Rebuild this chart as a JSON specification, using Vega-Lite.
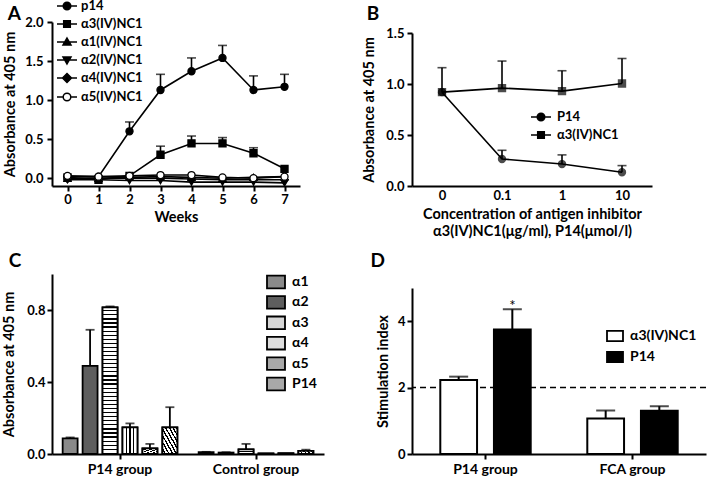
{
"$schema":"https://vega.github.io/schema/vega-lite/v6.json",
"background":"white",
"padding":{"left":1,"top":-5,"right":0,"bottom":0},
"config":{
 "font":"Lato",
 "view":{"stroke":null},
 "axis":{"labelFont":"Lato","labelFontSize":13,"labelFontWeight":"bold","labelColor":"black","titleFont":"Lato","titleFontSize":14.5,"titleFontWeight":"bold","titleColor":"black","domainColor":"black","domainWidth":2,"tickColor":"black","tickWidth":2,"tickSize":5,"grid":false},
 "legend":{"labelFont":"Lato","labelFontWeight":"bold","labelColor":"black","labelFontSize":13},
 "title":{"font":"Lato","fontSize":19,"fontWeight":"bold","color":"black"}
},
"resolve":{"scale":{"fill":"independent","shape":"independent","xOffset":"independent"},"legend":{"fill":"independent","shape":"independent"}},
"columns":2,
"spacing":88,
"bounds":"flush",
"concat":[
{
 "width":248,"height":164,
 "title":{"text":"A","anchor":"start","frame":"bounds","offset":0,"dx":5,"dy":29},
 "data":{"values":[
  {"week":0,"series":"p14","value":0.02},{"week":1,"series":"p14","value":0.02},{"week":2,"series":"p14","value":0.6,"upper":0.72},{"week":3,"series":"p14","value":1.13,"upper":1.33},{"week":4,"series":"p14","value":1.37,"upper":1.54},{"week":5,"series":"p14","value":1.54,"upper":1.7},{"week":6,"series":"p14","value":1.13,"upper":1.31},{"week":7,"series":"p14","value":1.17,"upper":1.33},
  {"week":0,"series":"α3(IV)NC1","value":0.01},{"week":1,"series":"α3(IV)NC1","value":-0.02},{"week":2,"series":"α3(IV)NC1","value":0.03},{"week":3,"series":"α3(IV)NC1","value":0.3,"upper":0.41},{"week":4,"series":"α3(IV)NC1","value":0.445,"upper":0.54},{"week":5,"series":"α3(IV)NC1","value":0.445,"upper":0.52},{"week":6,"series":"α3(IV)NC1","value":0.32,"upper":0.39},{"week":7,"series":"α3(IV)NC1","value":0.12},
  {"week":0,"series":"α1(IV)NC1","value":0.0},{"week":1,"series":"α1(IV)NC1","value":0.0},{"week":2,"series":"α1(IV)NC1","value":0.01},{"week":3,"series":"α1(IV)NC1","value":0.02},{"week":4,"series":"α1(IV)NC1","value":0.01},{"week":5,"series":"α1(IV)NC1","value":0.0},{"week":6,"series":"α1(IV)NC1","value":0.01},{"week":7,"series":"α1(IV)NC1","value":0.02},
  {"week":0,"series":"α2(IV)NC1","value":-0.02},{"week":1,"series":"α2(IV)NC1","value":-0.02},{"week":2,"series":"α2(IV)NC1","value":-0.03},{"week":3,"series":"α2(IV)NC1","value":-0.03},{"week":4,"series":"α2(IV)NC1","value":-0.05},{"week":5,"series":"α2(IV)NC1","value":-0.05},{"week":6,"series":"α2(IV)NC1","value":-0.05},{"week":7,"series":"α2(IV)NC1","value":-0.06},
  {"week":0,"series":"α4(IV)NC1","value":-0.01},{"week":1,"series":"α4(IV)NC1","value":0.0},{"week":2,"series":"α4(IV)NC1","value":0.0},{"week":3,"series":"α4(IV)NC1","value":0.0},{"week":4,"series":"α4(IV)NC1","value":-0.01},{"week":5,"series":"α4(IV)NC1","value":-0.02},{"week":6,"series":"α4(IV)NC1","value":-0.02},{"week":7,"series":"α4(IV)NC1","value":-0.02},
  {"week":0,"series":"α5(IV)NC1","value":0.03},{"week":1,"series":"α5(IV)NC1","value":0.02},{"week":2,"series":"α5(IV)NC1","value":0.03},{"week":3,"series":"α5(IV)NC1","value":0.04},{"week":4,"series":"α5(IV)NC1","value":0.04},{"week":5,"series":"α5(IV)NC1","value":0.01},{"week":6,"series":"α5(IV)NC1","value":0.0},{"week":7,"series":"α5(IV)NC1","value":0.02}
 ]},
 "encoding":{"x":{"field":"week","type":"quantitative","scale":{"domain":[-0.5,7.5],"nice":false},"axis":{"values":[0,1,2,3,4,5,6,7],"title":"Weeks","labelPadding":2,"titlePadding":4}}},
 "layer":[
  {"mark":{"type":"line","color":"black","strokeWidth":1.6},"encoding":{"y":{"field":"value","type":"quantitative","scale":{"domain":[-0.1,2],"nice":false,"zero":false},"axis":{"values":[0,0.5,1,1.5,2],"format":".1f","title":"Absorbance at 405 nm","labelPadding":4,"titlePadding":7}},"detail":{"field":"series"}}},
  {"transform":[{"filter":"datum.upper != null"}],"mark":{"type":"rule","color":"black","strokeWidth":1.6},"encoding":{"y":{"field":"value","type":"quantitative"},"y2":{"field":"upper"}}},
  {"transform":[{"filter":"datum.upper != null"}],"mark":{"type":"tick","color":"black","orient":"horizontal","size":9,"thickness":1.6},"encoding":{"y":{"field":"upper","type":"quantitative"}}},
  {"mark":{"type":"point","filled":true,"stroke":"black","strokeWidth":1.3,"opacity":1,"size":50},"encoding":{"y":{"field":"value","type":"quantitative"},
    "shape":{"field":"series","type":"nominal","scale":{"domain":["p14","α3(IV)NC1","α1(IV)NC1","α2(IV)NC1","α4(IV)NC1","α5(IV)NC1"],"range":["circle","square","triangle-up","triangle-down","diamond","circle"]},"legend":null},
    "fill":{"field":"series","type":"nominal","scale":{"domain":["p14","α3(IV)NC1","α1(IV)NC1","α2(IV)NC1","α4(IV)NC1","α5(IV)NC1"],"range":["black","black","black","black","black","white"]},"legend":null}}},
  {"mark":{"type":"point","filled":false,"color":"black","strokeWidth":1.5,"opacity":0},"encoding":{"y":{"field":"value","type":"quantitative"},
    "shape":{"field":"series","type":"nominal","scale":{"domain":["p14","α3(IV)NC1","α1(IV)NC1","α2(IV)NC1","α4(IV)NC1","α5(IV)NC1"],"range":[
      "M-1,0H-0.38M0.38,0H1M-0.38,0A0.38,0.38,0,1,1,0.38,0A0.38,0.38,0,1,1,-0.38,0Z",
      "M-1,0H-0.33M0.33,0H1M-0.33,-0.33H0.33V0.33H-0.33Z",
      "M-1,0H1M0,-0.4L0.4,0.3L-0.4,0.3Z",
      "M-1,0H1M0,0.4L0.4,-0.3L-0.4,-0.3Z",
      "M-1,0H1M0,-0.45L0.45,0L0,0.45L-0.45,0Z",
      "M-1,0H-0.38M0.38,0H1M-0.38,0A0.38,0.38,0,1,1,0.38,0A0.38,0.38,0,1,1,-0.38,0Z"]},
      "legend":{"title":null,"orient":"none","legendX":4,"legendY":-27,"symbolSize":400,"symbolStrokeWidth":1.5,"symbolStrokeColor":"black","symbolOpacity":1,"rowPadding":-0.3,"labelFontSize":13,"labelOffset":3,"padding":0,
        "encoding":{"symbols":{"stroke":{"value":"black"},"strokeWidth":{"value":1.5},"fill":{"value":{"expr":"datum.value === 'α5(IV)NC1' ? 'white' : 'black'"}}}}}}}}
 ],
 "resolve":{"scale":{"shape":"independent","fill":"independent"}}
},
{
 "width":240,"height":164,
 "title":{"text":"B","anchor":"start","frame":"bounds","offset":0,"dx":5,"dy":2},
 "data":{"values":[
  {"conc":"0","series":"P14","value":0.92},{"conc":"0.1","series":"P14","value":0.265,"upper":0.35},{"conc":"1","series":"P14","value":0.215,"upper":0.305},{"conc":"10","series":"P14","value":0.135,"upper":0.2},
  {"conc":"0","series":"α3(IV)NC1","value":0.92,"upper":1.16},{"conc":"0.1","series":"α3(IV)NC1","value":0.96,"upper":1.225},{"conc":"1","series":"α3(IV)NC1","value":0.93,"upper":1.13},{"conc":"10","series":"α3(IV)NC1","value":1.005,"upper":1.25}
 ]},
 "encoding":{"x":{"field":"conc","type":"ordinal","sort":["0","0.1","1","10"],"scale":{"type":"point","padding":0.5},"axis":{"title":["Concentration of antigen inhibitor","α3(IV)NC1(μg/ml), P14(μmol/l)"],"ticks":false,"labelAngle":0,"labelPadding":3,"titlePadding":5,"titleLineHeight":17}}},
 "layer":[
  {"mark":{"type":"line","color":"black","strokeWidth":1.6},"encoding":{
    "y":{"field":"value","type":"quantitative","scale":{"domain":[0,1.5],"nice":false,"range":[164,11]},"axis":{"values":[0,0.5,1,1.5],"format":".1f","title":"Absorbance at 405 nm","labelPadding":3,"titlePadding":9}},"detail":{"field":"series"}}},
  {"transform":[{"filter":"datum.upper != null"}],"mark":{"type":"rule","color":"black","strokeWidth":1.6},"encoding":{"y":{"field":"value","type":"quantitative"},"y2":{"field":"upper"}}},
  {"transform":[{"filter":"datum.upper != null"}],"mark":{"type":"tick","color":"black","orient":"horizontal","size":9,"thickness":1.6},"encoding":{"y":{"field":"upper","type":"quantitative"}}},
  {"mark":{"type":"point","filled":true,"color":"black","stroke":"black","strokeWidth":1.3,"size":50},"encoding":{"y":{"field":"value","type":"quantitative"},
    "shape":{"field":"series","type":"nominal","scale":{"domain":["P14","α3(IV)NC1"],"range":["circle","square"]},"legend":null}}},
  {"mark":{"type":"point","filled":false,"color":"black","strokeWidth":1.5,"opacity":0},"encoding":{"y":{"field":"value","type":"quantitative"},
    "shape":{"field":"series","type":"nominal","scale":{"domain":["P14","α3(IV)NC1"],"range":[
      "M-1,0H-0.38M0.38,0H1M-0.38,0A0.38,0.38,0,1,1,0.38,0A0.38,0.38,0,1,1,-0.38,0Z",
      "M-1,0H-0.33M0.33,0H1M-0.33,-0.33H0.33V0.33H-0.33Z"]},
      "legend":{"title":null,"orient":"none","legendX":118,"legendY":84,"symbolSize":400,"symbolStrokeWidth":1.5,"symbolStrokeColor":"black","symbolOpacity":1,"rowPadding":-3,"labelFontSize":13,"labelOffset":5,"padding":0,
        "encoding":{"symbols":{"stroke":{"value":"black"},"strokeWidth":{"value":1.5},"fill":{"value":"black"}}}}}}}
 ],
 "resolve":{"scale":{"shape":"independent"}}
},
{
 "width":272,"height":180,
 "title":{"text":"C","anchor":"start","frame":"bounds","offset":0,"dx":7,"dy":-1},
 "data":{"values":[
  {"group":"P14 group","series":"α1","value":0.087,"upper":0.092},{"group":"P14 group","series":"α2","value":0.49,"upper":0.69},{"group":"P14 group","series":"α3","value":0.815,"upper":0.82},{"group":"P14 group","series":"α4","value":0.148,"upper":0.17},{"group":"P14 group","series":"α5","value":0.031,"upper":0.056},{"group":"P14 group","series":"P14","value":0.148,"upper":0.26},
  {"group":"Control group","series":"α1","value":0.01,"upper":0.012},{"group":"Control group","series":"α2","value":0.008,"upper":0.01},{"group":"Control group","series":"α3","value":0.026,"upper":0.056},{"group":"Control group","series":"α4","value":0.003},{"group":"Control group","series":"α5","value":0.004},{"group":"Control group","series":"P14","value":0.017,"upper":0.024}
 ]},
 "encoding":{
  "x":{"field":"group","type":"nominal","sort":["P14 group","Control group"],"scale":{"paddingInner":0.12,"paddingOuter":0.06},"axis":{"title":null,"labelAngle":0,"labelPadding":3,"labelFontSize":14}},
  "xOffset":{"field":"series","type":"nominal","sort":["α1","α2","α3","α4","α5","P14"],"scale":{"paddingInner":0.25,"paddingOuter":0.125}}
 },
 "layer":[
  {"mark":{"type":"bar","stroke":"black","strokeWidth":1.8},"encoding":{
    "y":{"field":"value","type":"quantitative","scale":{"domain":[0,1],"nice":false},"axis":{"values":[0,0.2,0.4,0.6,0.8,1],"format":".1f","title":"Absorbance at 405 nm","labelPadding":2,"titlePadding":10}},
    "fill":{"field":"series","type":"nominal","scale":{"domain":["α1","α2","α3","α4","α5","P14"],"range":["#8a8a8a","#5e5e5e","#d6d6d6","#dedede","#a8a8a8","#a8a8a8"]},
    "legend":{"title":null,"orient":"none","legendX":214,"legendY":-2,"symbolType":"M-1,-0.7H1V0.7H-1Z","symbolSize":324,"symbolStrokeColor":"black","symbolStrokeWidth":1.8,"rowPadding":0.4,"labelFontSize":14,"labelOffset":6,"padding":0,
      "encoding":{"symbols":{"stroke":{"value":"black"},"strokeWidth":{"value":1.8}}}}}}},
  {"transform":[{"filter":"datum.series === 'α3'"}],"mark":{"type":"bar","stroke":"black","strokeWidth":1.8,"fill":{"gradient":"linear","x1":0,"y1":0,"x2":0,"y2":1,"stops":[
{"offset":0,"color":"#fff"},{"offset":0.0194,"color":"#fff"},{"offset":0.0194,"color":"#000"},{"offset":0.0278,"color":"#000"},
{"offset":0.0278,"color":"#fff"},{"offset":0.0472,"color":"#fff"},{"offset":0.0472,"color":"#000"},{"offset":0.0556,"color":"#000"},
{"offset":0.0556,"color":"#fff"},{"offset":0.075,"color":"#fff"},{"offset":0.075,"color":"#000"},{"offset":0.0833,"color":"#000"},
{"offset":0.0833,"color":"#fff"},{"offset":0.1028,"color":"#fff"},{"offset":0.1028,"color":"#000"},{"offset":0.1111,"color":"#000"},
{"offset":0.1111,"color":"#fff"},{"offset":0.1306,"color":"#fff"},{"offset":0.1306,"color":"#000"},{"offset":0.1389,"color":"#000"},
{"offset":0.1389,"color":"#fff"},{"offset":0.1583,"color":"#fff"},{"offset":0.1583,"color":"#000"},{"offset":0.1667,"color":"#000"},
{"offset":0.1667,"color":"#fff"},{"offset":0.1861,"color":"#fff"},{"offset":0.1861,"color":"#000"},{"offset":0.1944,"color":"#000"},
{"offset":0.1944,"color":"#fff"},{"offset":0.2139,"color":"#fff"},{"offset":0.2139,"color":"#000"},{"offset":0.2222,"color":"#000"},
{"offset":0.2222,"color":"#fff"},{"offset":0.2417,"color":"#fff"},{"offset":0.2417,"color":"#000"},{"offset":0.25,"color":"#000"},
{"offset":0.25,"color":"#fff"},{"offset":0.2694,"color":"#fff"},{"offset":0.2694,"color":"#000"},{"offset":0.2778,"color":"#000"},
{"offset":0.2778,"color":"#fff"},{"offset":0.2972,"color":"#fff"},{"offset":0.2972,"color":"#000"},{"offset":0.3056,"color":"#000"},
{"offset":0.3056,"color":"#fff"},{"offset":0.325,"color":"#fff"},{"offset":0.325,"color":"#000"},{"offset":0.3333,"color":"#000"},
{"offset":0.3333,"color":"#fff"},{"offset":0.3528,"color":"#fff"},{"offset":0.3528,"color":"#000"},{"offset":0.3611,"color":"#000"},
{"offset":0.3611,"color":"#fff"},{"offset":0.3806,"color":"#fff"},{"offset":0.3806,"color":"#000"},{"offset":0.3889,"color":"#000"},
{"offset":0.3889,"color":"#fff"},{"offset":0.4083,"color":"#fff"},{"offset":0.4083,"color":"#000"},{"offset":0.4167,"color":"#000"},
{"offset":0.4167,"color":"#fff"},{"offset":0.4361,"color":"#fff"},{"offset":0.4361,"color":"#000"},{"offset":0.4444,"color":"#000"},
{"offset":0.4444,"color":"#fff"},{"offset":0.4639,"color":"#fff"},{"offset":0.4639,"color":"#000"},{"offset":0.4722,"color":"#000"},
{"offset":0.4722,"color":"#fff"},{"offset":0.4917,"color":"#fff"},{"offset":0.4917,"color":"#000"},{"offset":0.5,"color":"#000"},
{"offset":0.5,"color":"#fff"},{"offset":0.5194,"color":"#fff"},{"offset":0.5194,"color":"#000"},{"offset":0.5278,"color":"#000"},
{"offset":0.5278,"color":"#fff"},{"offset":0.5472,"color":"#fff"},{"offset":0.5472,"color":"#000"},{"offset":0.5556,"color":"#000"},
{"offset":0.5556,"color":"#fff"},{"offset":0.575,"color":"#fff"},{"offset":0.575,"color":"#000"},{"offset":0.5833,"color":"#000"},
{"offset":0.5833,"color":"#fff"},{"offset":0.6028,"color":"#fff"},{"offset":0.6028,"color":"#000"},{"offset":0.6111,"color":"#000"},
{"offset":0.6111,"color":"#fff"},{"offset":0.6306,"color":"#fff"},{"offset":0.6306,"color":"#000"},{"offset":0.6389,"color":"#000"},
{"offset":0.6389,"color":"#fff"},{"offset":0.6583,"color":"#fff"},{"offset":0.6583,"color":"#000"},{"offset":0.6667,"color":"#000"},
{"offset":0.6667,"color":"#fff"},{"offset":0.6861,"color":"#fff"},{"offset":0.6861,"color":"#000"},{"offset":0.6944,"color":"#000"},
{"offset":0.6944,"color":"#fff"},{"offset":0.7139,"color":"#fff"},{"offset":0.7139,"color":"#000"},{"offset":0.7222,"color":"#000"},
{"offset":0.7222,"color":"#fff"},{"offset":0.7417,"color":"#fff"},{"offset":0.7417,"color":"#000"},{"offset":0.75,"color":"#000"},
{"offset":0.75,"color":"#fff"},{"offset":0.7694,"color":"#fff"},{"offset":0.7694,"color":"#000"},{"offset":0.7778,"color":"#000"},
{"offset":0.7778,"color":"#fff"},{"offset":0.7972,"color":"#fff"},{"offset":0.7972,"color":"#000"},{"offset":0.8056,"color":"#000"},
{"offset":0.8056,"color":"#fff"},{"offset":0.825,"color":"#fff"},{"offset":0.825,"color":"#000"},{"offset":0.8333,"color":"#000"},
{"offset":0.8333,"color":"#fff"},{"offset":0.8528,"color":"#fff"},{"offset":0.8528,"color":"#000"},{"offset":0.8611,"color":"#000"},
{"offset":0.8611,"color":"#fff"},{"offset":0.8806,"color":"#fff"},{"offset":0.8806,"color":"#000"},{"offset":0.8889,"color":"#000"},
{"offset":0.8889,"color":"#fff"},{"offset":0.9083,"color":"#fff"},{"offset":0.9083,"color":"#000"},{"offset":0.9167,"color":"#000"},
{"offset":0.9167,"color":"#fff"},{"offset":0.9361,"color":"#fff"},{"offset":0.9361,"color":"#000"},{"offset":0.9444,"color":"#000"},
{"offset":0.9444,"color":"#fff"},{"offset":0.9639,"color":"#fff"},{"offset":0.9639,"color":"#000"},{"offset":0.9722,"color":"#000"},
{"offset":0.9722,"color":"#fff"},{"offset":0.9917,"color":"#fff"},{"offset":0.9917,"color":"#000"},{"offset":1,"color":"#000"}]}},
   "encoding":{"y":{"field":"value","type":"quantitative"}}},
  {"transform":[{"filter":"datum.series === 'α4'"}],"mark":{"type":"bar","stroke":"black","strokeWidth":1.8,"fill":{"gradient":"linear","x1":0,"y1":0,"x2":1,"y2":0,"stops":[
{"offset":0,"color":"#fff"},{"offset":0.22,"color":"#fff"},{"offset":0.22,"color":"#000"},{"offset":0.29,"color":"#000"},{"offset":0.29,"color":"#fff"},{"offset":0.46,"color":"#fff"},{"offset":0.46,"color":"#000"},{"offset":0.54,"color":"#000"},{"offset":0.54,"color":"#fff"},{"offset":0.71,"color":"#fff"},{"offset":0.71,"color":"#000"},{"offset":0.78,"color":"#000"},{"offset":0.78,"color":"#fff"},{"offset":1,"color":"#fff"}]}},
   "encoding":{"y":{"field":"value","type":"quantitative"}}},
  {"transform":[{"filter":"datum.series === 'α5'"}],"mark":{"type":"bar","stroke":"black","strokeWidth":1.8,"fill":{"gradient":"linear","x1":0,"y1":0,"x2":1,"y2":1,"stops":[
{"offset":0,"color":"#fff"},{"offset":0.12,"color":"#fff"},{"offset":0.12,"color":"#000"},{"offset":0.2,"color":"#000"},{"offset":0.2,"color":"#fff"},{"offset":0.32,"color":"#fff"},{"offset":0.32,"color":"#000"},{"offset":0.4,"color":"#000"},{"offset":0.4,"color":"#fff"},{"offset":0.52,"color":"#fff"},{"offset":0.52,"color":"#000"},{"offset":0.6,"color":"#000"},{"offset":0.6,"color":"#fff"},{"offset":0.72,"color":"#fff"},{"offset":0.72,"color":"#000"},{"offset":0.8,"color":"#000"},{"offset":0.8,"color":"#fff"},{"offset":0.92,"color":"#fff"},{"offset":0.92,"color":"#000"},{"offset":1,"color":"#000"}]}},
   "encoding":{"y":{"field":"value","type":"quantitative"}}},
  {"transform":[{"filter":"datum.series === 'P14'"}],"mark":{"type":"bar","stroke":"black","strokeWidth":1.8,"fill":{"gradient":"linear","x1":0,"y1":1,"x2":1,"y2":0,"stops":[
{"offset":0,"color":"#fff"},{"offset":0.075,"color":"#fff"},{"offset":0.075,"color":"#000"},{"offset":0.125,"color":"#000"},
{"offset":0.125,"color":"#fff"},{"offset":0.2,"color":"#fff"},{"offset":0.2,"color":"#000"},{"offset":0.25,"color":"#000"},
{"offset":0.25,"color":"#fff"},{"offset":0.325,"color":"#fff"},{"offset":0.325,"color":"#000"},{"offset":0.375,"color":"#000"},
{"offset":0.375,"color":"#fff"},{"offset":0.45,"color":"#fff"},{"offset":0.45,"color":"#000"},{"offset":0.5,"color":"#000"},
{"offset":0.5,"color":"#fff"},{"offset":0.575,"color":"#fff"},{"offset":0.575,"color":"#000"},{"offset":0.625,"color":"#000"},
{"offset":0.625,"color":"#fff"},{"offset":0.7,"color":"#fff"},{"offset":0.7,"color":"#000"},{"offset":0.75,"color":"#000"},
{"offset":0.75,"color":"#fff"},{"offset":0.825,"color":"#fff"},{"offset":0.825,"color":"#000"},{"offset":0.875,"color":"#000"},
{"offset":0.875,"color":"#fff"},{"offset":0.95,"color":"#fff"},{"offset":0.95,"color":"#000"},{"offset":1,"color":"#000"}]}},
   "encoding":{"y":{"field":"value","type":"quantitative"}}},
  {"transform":[{"filter":"datum.upper != null"}],"mark":{"type":"rule","color":"black","strokeWidth":1.8},"encoding":{"y":{"field":"value","type":"quantitative"},"y2":{"field":"upper"}}},
  {"transform":[{"filter":"datum.upper != null"}],"mark":{"type":"tick","color":"black","orient":"horizontal","size":9,"thickness":1.8},"encoding":{"y":{"field":"upper","type":"quantitative"}}}
 ]
},
{
 "width":294,"height":180,
 "title":{"text":"D","anchor":"start","frame":"bounds","offset":0,"dx":-5,"dy":-3},
 "data":{"values":[
  {"group":"P14 group","series":"α3(IV)NC1","value":2.23,"upper":2.33},{"group":"P14 group","series":"P14","value":3.75,"upper":4.36},
  {"group":"FCA group","series":"α3(IV)NC1","value":1.07,"upper":1.31},{"group":"FCA group","series":"P14","value":1.3,"upper":1.44}
 ]},
 "layer":[
  {"data":{"values":[{}]},"mark":{"type":"rule","color":"black","strokeWidth":1.5,"strokeDash":[6,4]},"encoding":{"y":{"datum":2,"type":"quantitative"}}},
  {"mark":{"type":"bar","stroke":"black","strokeWidth":2},"encoding":{
    "x":{"field":"group","type":"nominal","sort":["P14 group","FCA group"],"scale":{"paddingInner":0.27,"paddingOuter":0.135},"axis":{"title":null,"labelAngle":0,"labelPadding":3,"labelFontSize":14}},
    "xOffset":{"field":"series","type":"nominal","sort":["α3(IV)NC1","P14"],"scale":{"paddingInner":0.315,"paddingOuter":0.1575}},
    "y":{"field":"value","type":"quantitative","scale":{"domain":[0,5],"nice":false,"range":[180,14]},"axis":{"values":[0,1,2,3,4,5],"title":"Stimulation index","labelPadding":2,"titlePadding":7}},
    "fill":{"field":"series","type":"nominal","scale":{"domain":["α3(IV)NC1","P14"],"range":["white","black"]},
      "legend":{"title":null,"orient":"none","legendX":194,"legendY":53,"symbolType":"M-1,-0.65H1V0.65H-1Z","symbolSize":256,"symbolStrokeColor":"black","symbolStrokeWidth":1.8,"rowPadding":3,"labelFontSize":14,"labelOffset":6,"padding":0}}}},
  {"mark":{"type":"rule","color":"black","strokeWidth":2},"encoding":{"x":{"field":"group","type":"nominal","sort":["P14 group","FCA group"]},"xOffset":{"field":"series","type":"nominal","sort":["α3(IV)NC1","P14"]},"y":{"field":"value","type":"quantitative"},"y2":{"field":"upper"}}},
  {"mark":{"type":"tick","color":"black","orient":"horizontal","size":19,"thickness":2},"encoding":{"x":{"field":"group","type":"nominal","sort":["P14 group","FCA group"]},"xOffset":{"field":"series","type":"nominal","sort":["α3(IV)NC1","P14"]},"y":{"field":"upper","type":"quantitative"}}},
  {"data":{"values":[{"group":"P14 group","series":"P14","upper":4.36,"label":"*"}]},"mark":{"type":"text","fontSize":15,"font":"Lato","dy":-3,"color":"black"},"encoding":{"x":{"field":"group","type":"nominal","sort":["P14 group","FCA group"]},"xOffset":{"field":"series","type":"nominal","sort":["α3(IV)NC1","P14"]},"y":{"field":"upper","type":"quantitative"},"text":{"field":"label"}}}
 ]
}
]
}
